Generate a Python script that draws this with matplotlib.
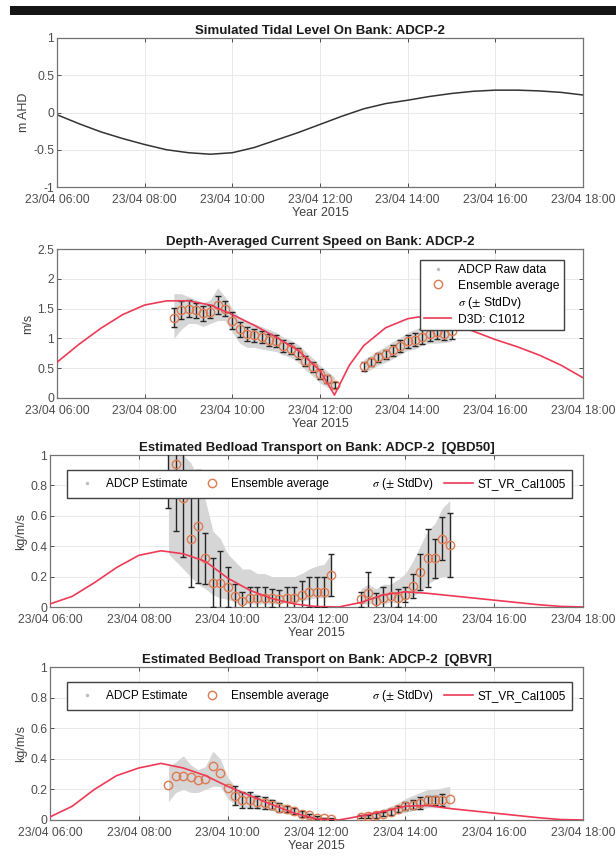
import matplotlib

matplotlib.use("Agg")

import matplotlib.dates as mdates
import matplotlib.pyplot as plt
import numpy as np
import pandas as pd
from matplotlib.lines import Line2D
from matplotlib.patches import Rectangle

plt.rcParams.update(
    {
        "font.family": ["Liberation Sans", "DejaVu Sans"],
        "font.size": 8.5,
        "axes.edgecolor": "0.45",
        "axes.labelcolor": "0.25",
        "xtick.color": "0.3",
        "ytick.color": "0.3",
        "xtick.direction": "in",
        "ytick.direction": "in",
        "xtick.top": True,
        "ytick.right": True,
        "mathtext.fontset": "stix",
    }
)

RED = "#ee3a55"
ORANGE = "#dc7a52"
RAW = "0.84"

DAY = pd.Timestamp("2015-04-23")

# ---- panel 1: simulated tide (m AHD), half-hourly 06:00..18:00
tide_hours = [6, 6.5, 7, 7.5, 8, 8.5, 9, 9.5, 10, 10.5, 11, 11.5, 12, 12.5,
              13, 13.5, 14, 14.5, 15, 15.5, 16, 16.5, 17, 17.5, 18]
tide_level = [-0.03, -0.15, -0.26, -0.35, -0.43, -0.50, -0.54, -0.56, -0.54, -0.47,
              -0.37, -0.27, -0.16, -0.05, 0.05, 0.12, 0.165, 0.215, 0.255, 0.285,
              0.30, 0.30, 0.29, 0.27, 0.235]

# ---- panel 2: depth-averaged current speed (m/s)
d3d_hours = [6, 6.5, 7, 7.5, 8, 8.5, 9, 9.5, 10, 10.5, 11, 11.5, 12, 12.33, 12.67,
             13, 13.5, 14, 14.25, 14.5, 15, 15.5, 16, 16.5, 17, 17.5, 18]
d3d_speed = [0.60, 0.90, 1.17, 1.40, 1.56, 1.63, 1.63, 1.56, 1.40, 1.22, 1.02, 0.80,
             0.46, 0.05, 0.55, 0.88, 1.18, 1.33, 1.36, 1.34, 1.26, 1.12, 0.98, 0.86,
             0.72, 0.55, 0.34]

# ensemble times: 10-minute bins, two survey legs
ens_t1 = pd.date_range("2015-04-23 08:40", "2015-04-23 12:20", freq="10min")
ens_t2 = pd.date_range("2015-04-23 13:00", "2015-04-23 15:00", freq="10min")

spd_mean1 = [1.35, 1.47, 1.50, 1.47, 1.42, 1.45, 1.56, 1.50, 1.30, 1.15, 1.07, 1.05,
             1.02, 0.98, 0.95, 0.88, 0.83, 0.75, 0.62, 0.52, 0.40, 0.32, 0.22]
spd_std1 = [0.16, 0.15, 0.14, 0.12, 0.12, 0.11, 0.15, 0.12, 0.14, 0.13, 0.12, 0.11,
            0.10, 0.10, 0.10, 0.10, 0.09, 0.09, 0.09, 0.09, 0.08, 0.07, 0.05]
spd_mean2 = [0.53, 0.60, 0.68, 0.73, 0.80, 0.88, 0.95, 0.98, 1.03, 1.08, 1.10, 1.08, 1.12]
spd_std2 = [0.07, 0.07, 0.08, 0.08, 0.09, 0.10, 0.11, 0.11, 0.12, 0.12, 0.11, 0.11, 0.13]
spd_raw_hi1 = [1.75, 1.75, 1.70, 1.65, 1.60, 1.65, 1.85, 1.70, 1.50, 1.35, 1.28, 1.25,
               1.20, 1.15, 1.10, 1.02, 0.97, 0.90, 0.78, 0.67, 0.55, 0.45, 0.35]
spd_raw_lo1 = [1.00, 1.15, 1.25, 1.25, 1.20, 1.25, 1.30, 1.30, 1.10, 0.92, 0.85, 0.85,
               0.82, 0.80, 0.78, 0.72, 0.68, 0.60, 0.47, 0.37, 0.25, 0.18, 0.12]
spd_raw_hi2 = [0.65, 0.72, 0.80, 0.87, 0.95, 1.02, 1.10, 1.15, 1.20, 1.25, 1.27, 1.27, 1.30]
spd_raw_lo2 = [0.42, 0.48, 0.55, 0.60, 0.66, 0.73, 0.80, 0.82, 0.88, 0.92, 0.92, 0.93, 0.95]

# ---- panels 3 & 4: bedload transport (kg/m/s)
st_hours = [6, 6.5, 7, 7.5, 8, 8.5, 9, 9.5, 10, 10.5, 11, 11.5, 12, 12.5,
            13, 13.5, 14, 14.5, 15, 15.5, 16, 16.5, 17, 17.5, 18]
qbd50_model = [0.02, 0.07, 0.16, 0.26, 0.34, 0.37, 0.35, 0.30, 0.19, 0.11, 0.055, 0.02,
               0.003, 0.0, 0.03, 0.08, 0.10, 0.09, 0.075, 0.06, 0.045, 0.03, 0.015,
               0.004, 0.0]
qbvr_model = [0.02, 0.09, 0.20, 0.29, 0.34, 0.37, 0.34, 0.29, 0.22, 0.16, 0.10, 0.045,
              0.007, 0.0, 0.026, 0.055, 0.09, 0.095, 0.075, 0.06, 0.045, 0.03, 0.015,
              0.003, 0.0]

qbd_mean1 = [1.05, 0.94, 0.72, 0.45, 0.53, 0.32, 0.16, 0.16, 0.13, 0.07, 0.04, 0.06,
             0.06, 0.06, 0.06, 0.05, 0.06, 0.06, 0.08, 0.10, 0.10, 0.10, 0.21]
qbd_std1 = [0.40, 0.44, 0.39, 0.32, 0.37, 0.17, 0.16, 0.21, 0.13, 0.08, 0.06, 0.07,
            0.07, 0.07, 0.06, 0.06, 0.07, 0.07, 0.09, 0.10, 0.10, 0.10, 0.14]
qbd_mean2 = [0.05, 0.09, 0.04, 0.06, 0.07, 0.06, 0.08, 0.14, 0.23, 0.32, 0.32, 0.45, 0.41]
qbd_std2 = [0.05, 0.14, 0.05, 0.07, 0.13, 0.06, 0.05, 0.08, 0.12, 0.19, 0.13, 0.14, 0.21]
qbd_raw_hi1 = [1.0, 1.0, 1.0, 0.95, 0.85, 0.70, 0.50, 0.45, 0.35, 0.30, 0.25, 0.25,
               0.22, 0.22, 0.20, 0.20, 0.20, 0.20, 0.22, 0.25, 0.27, 0.28, 0.35]
qbd_raw_lo1 = [0.35, 0.30, 0.25, 0.20, 0.15, 0.12, 0.08, 0.06, 0.05, 0.03, 0.02, 0.02,
               0.02, 0.02, 0.02, 0.02, 0.03, 0.03, 0.04, 0.05, 0.06, 0.06, 0.07]
qbd_raw_hi2 = [0.12, 0.15, 0.12, 0.15, 0.15, 0.18, 0.22, 0.30, 0.40, 0.50, 0.55, 0.65, 0.70]
qbd_raw_lo2 = [0.02, 0.02, 0.02, 0.02, 0.03, 0.03, 0.05, 0.07, 0.10, 0.15, 0.18, 0.20, 0.20]

nan = np.nan
qbv_mean1 = [0.23, 0.29, 0.29, 0.28, 0.26, 0.265, 0.35, 0.31, 0.21, 0.16, 0.13, 0.13,
             0.12, 0.11, 0.10, 0.08, 0.07, 0.06, 0.04, 0.03, 0.015, 0.01, 0.005]
qbv_std1 = [nan, nan, nan, nan, nan, nan, nan, nan, nan, 0.06, 0.05, 0.05,
            0.04, 0.04, 0.03, 0.03, 0.02, 0.02, 0.02, 0.01, 0.01, 0.005, 0.005]
qbv_mean2 = [0.02, 0.025, 0.03, 0.04, 0.05, 0.07, 0.09, 0.10, 0.11, 0.13, 0.13, 0.13, 0.14]
qbv_std2 = [0.01, 0.01, 0.015, 0.015, 0.02, 0.02, 0.025, 0.03, 0.04, 0.03, 0.03, 0.04, nan]
qbv_raw_hi1 = [0.35, 0.38, 0.42, 0.36, 0.33, 0.35, 0.45, 0.40, 0.28, 0.22, 0.19, 0.18,
               0.17, 0.15, 0.14, 0.12, 0.10, 0.08, 0.06, 0.05, 0.03, 0.02, 0.015]
qbv_raw_lo1 = [0.12, 0.18, 0.20, 0.18, 0.18, 0.20, 0.22, 0.22, 0.14, 0.10, 0.08, 0.08,
               0.07, 0.07, 0.06, 0.05, 0.04, 0.03, 0.02, 0.01, 0.005, 0.0, 0.0]
qbv_raw_hi2 = [0.04, 0.05, 0.06, 0.07, 0.09, 0.11, 0.14, 0.16, 0.18, 0.20, 0.20, 0.21, 0.22]
qbv_raw_lo2 = [0.01, 0.01, 0.015, 0.02, 0.03, 0.04, 0.05, 0.06, 0.07, 0.08, 0.08, 0.08, 0.08]

ylabels_tide = ["-1", "-0.5", "0", "0.5", "1"]
ylabels_spd = ["0", "0.5", "1", "1.5", "2", "2.5"]
ylabels_qb = ["0", "0.2", "0.4", "0.6", "0.8", "1"]


def to_time(hours):
    return DAY + pd.to_timedelta(np.asarray(hours, dtype=float), unit="h")


def setup(ax, title, ylabel, yticks, ylabels):
    ax.set_xlim(to_time([6])[0], to_time([18])[0])
    ax.xaxis.set_major_locator(mdates.HourLocator(byhour=range(6, 19, 2)))
    ax.xaxis.set_major_formatter(mdates.DateFormatter("%d/%m %H:%M"))
    ax.set_ylim(yticks[0], yticks[-1])
    ax.set_yticks(yticks)
    ax.set_yticklabels(ylabels)
    ax.grid(True, color="0.9", lw=0.6)
    ax.set_axisbelow(True)
    ax.tick_params(length=3, width=0.7, labelsize=8.7, pad=2)
    ax.tick_params(axis="x", pad=5)
    ax.set_title(title, fontweight="bold", fontsize=9.5, color="0.1", pad=3)
    ax.set_ylabel(ylabel, labelpad=2, fontsize=9)
    ax.set_xlabel("Year 2015", labelpad=1, fontsize=9)
    for sp in ax.spines.values():
        sp.set_linewidth(0.9)


def ensemble(ax, t, mean, std, lo, hi):
    ax.fill_between(t, lo, hi, color=RAW, lw=0, zorder=1)
    ax.errorbar(t, mean, yerr=std, fmt="none", ecolor="0.15", elinewidth=1.0,
                capsize=2.5, capthick=1.0, zorder=3)
    ax.plot(t, mean, "o", mfc="none", mec=ORANGE, mew=1.0, ms=6, zorder=4)


def legend_handles(raw_label, model_label):
    return [
        Line2D([], [], ls="none", marker=".", color="0.75", ms=3, label=raw_label),
        Line2D([], [], ls="none", marker="o", mfc="none", mec=ORANGE, mew=1.0, ms=6,
               label="Ensemble average"),
        Line2D([], [], color="none", label=r"$\sigma$ ($\pm$ StdDv)"),
        Line2D([], [], color=RED, lw=1.2, label=model_label),
    ]


fig = plt.figure(figsize=(6.16, 8.56), dpi=100, facecolor="white")
fig.add_artist(Rectangle((10 / 616, 1 - 15 / 856), 606 / 616, 9 / 856,
                         transform=fig.transFigure, color="#151515", lw=0))

ax1 = fig.add_axes([57 / 616, 1 - 187 / 856, 526 / 616, 149 / 856])
ax2 = fig.add_axes([57 / 616, 1 - 398 / 856, 526 / 616, 149 / 856])
ax3 = fig.add_axes([50 / 616, 1 - 607 / 856, 533 / 616, 152 / 856])
ax4 = fig.add_axes([50 / 616, 1 - 820 / 856, 533 / 616, 153 / 856])

# panel 1
setup(ax1, "Simulated Tidal Level On Bank: ADCP-2", "m AHD", [-1, -0.5, 0, 0.5, 1], ylabels_tide)
ax1.plot(to_time(tide_hours), tide_level, color="0.2", lw=1.1)

# panel 2
setup(ax2, "Depth-Averaged Current Speed on Bank: ADCP-2", "m/s",
      [0, 0.5, 1, 1.5, 2, 2.5], ylabels_spd)
ensemble(ax2, ens_t1, spd_mean1, spd_std1, spd_raw_lo1, spd_raw_hi1)
ensemble(ax2, ens_t2, spd_mean2, spd_std2, spd_raw_lo2, spd_raw_hi2)
ax2.plot(to_time(d3d_hours), d3d_speed, color=RED, lw=1.2, zorder=5)
ax2.legend(handles=legend_handles("ADCP Raw data", "D3D: C1012"), loc="upper right",
           bbox_to_anchor=(0.975, 0.965), fontsize=8.7, frameon=True, fancybox=False,
           edgecolor="0.25", framealpha=1, handlelength=2.2, labelspacing=0.25,
           borderpad=0.35, handletextpad=0.6)

# panels 3 and 4
panels = [
    (ax3, "Estimated Bedload Transport on Bank: ADCP-2  [QBD50]", qbd50_model,
     (qbd_mean1, qbd_std1, qbd_raw_lo1, qbd_raw_hi1),
     (qbd_mean2, qbd_std2, qbd_raw_lo2, qbd_raw_hi2)),
    (ax4, "Estimated Bedload Transport on Bank: ADCP-2  [QBVR]", qbvr_model,
     (qbv_mean1, qbv_std1, qbv_raw_lo1, qbv_raw_hi1),
     (qbv_mean2, qbv_std2, qbv_raw_lo2, qbv_raw_hi2)),
]
for ax, title, model, leg1, leg2 in panels:
    setup(ax, title, "kg/m/s", [0, 0.2, 0.4, 0.6, 0.8, 1], ylabels_qb)
    ensemble(ax, ens_t1, *leg1)
    ensemble(ax, ens_t2, *leg2)
    ax.plot(to_time(st_hours), model, color=RED, lw=1.2, zorder=5)
    ax.legend(handles=legend_handles("ADCP Estimate", "ST_VR_Cal1005"), loc="upper center",
              bbox_to_anchor=(0.505, 0.94), ncol=4, fontsize=8.5, frameon=True,
              fancybox=False, edgecolor="0.25", framealpha=1, handlelength=2.4,
              columnspacing=0.9, borderpad=0.5, handletextpad=0.4)

fig.savefig("out.png", dpi=100, facecolor="white")
